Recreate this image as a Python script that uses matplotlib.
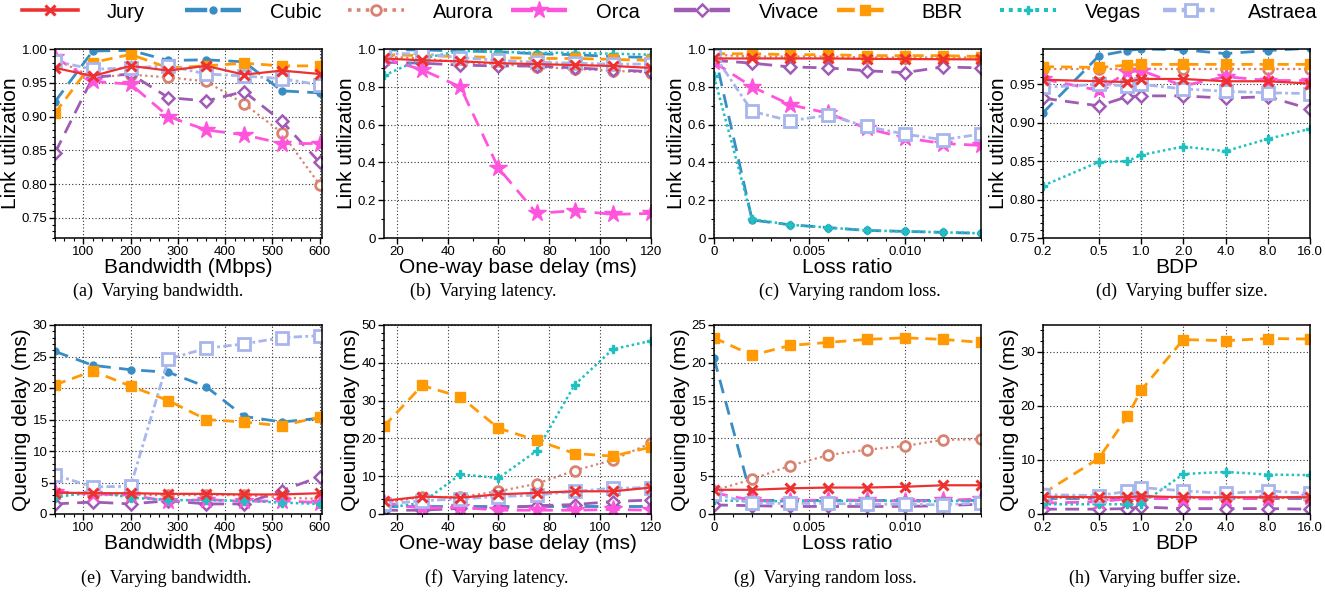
import numpy as np
import matplotlib
matplotlib.use("Agg")
import matplotlib.pyplot as plt
from matplotlib.lines import Line2D
from matplotlib.ticker import MultipleLocator, FixedLocator, NullLocator

plt.rcParams['font.family'] = ['Liberation Sans', 'DejaVu Sans']

# x values
bandwidth = [40, 120, 200, 280, 360, 440, 520, 600]
base_delay = [15, 30, 45, 60, 75, 90, 105, 120]
loss_ratio = [0, 0.002, 0.004, 0.006, 0.008, 0.010, 0.012, 0.014]
bdp = [0.2, 0.5, 0.8, 1.0, 2.0, 4.0, 8.0, 16.0]
bdp_ticks = [0.2, 0.5, 1.0, 2.0, 4.0, 8.0, 16.0]

schemes = ["Jury", "Cubic", "Aurora", "Orca", "Vivace", "BBR", "Vegas", "Astraea"]

# (a) link utilization vs bandwidth
util_bw = {
    "Jury":    [0.972, 0.960, 0.975, 0.968, 0.975, 0.962, 0.968, 0.963],
    "Cubic":   [0.922, 0.997, 0.998, 0.983, 0.984, 0.981, 0.938, 0.935],
    "Aurora":  [0.985, 0.958, 0.962, 0.958, 0.952, 0.919, 0.876, 0.799],
    "Orca":    [0.988, 0.952, 0.948, 0.900, 0.880, 0.873, 0.860, 0.860],
    "Vivace":  [0.846, 0.958, 0.963, 0.928, 0.923, 0.937, 0.893, 0.832],
    "BBR":     [0.905, 0.980, 0.992, 0.972, 0.975, 0.979, 0.975, 0.975],
    "Vegas":   [0.700, 0.700, 0.700, 0.700, 0.700, 0.700, 0.700, 0.700],
    "Astraea": [0.982, 0.970, 0.972, 0.975, 0.963, 0.960, 0.956, 0.947],
}
# (b) link utilization vs base delay
util_lat = {
    "Jury":    [0.950, 0.940, 0.935, 0.925, 0.920, 0.915, 0.910, 0.900],
    "Cubic":   [0.995, 0.995, 0.990, 0.985, 0.975, 0.970, 0.960, 0.955],
    "Aurora":  [0.960, 0.950, 0.930, 0.920, 0.905, 0.895, 0.885, 0.875],
    "Orca":    [0.950, 0.890, 0.800, 0.370, 0.130, 0.145, 0.125, 0.130],
    "Vivace":  [0.930, 0.925, 0.915, 0.910, 0.910, 0.900, 0.890, 0.880],
    "BBR":     [0.970, 0.965, 0.960, 0.955, 0.950, 0.950, 0.945, 0.940],
    "Vegas":   [0.860, 0.950, 0.990, 0.985, 0.980, 0.980, 0.975, 0.970],
    "Astraea": [0.975, 0.975, 0.955, 0.940, 0.930, 0.925, 0.920, 0.920],
}
# (c) link utilization vs loss ratio
util_loss = {
    "Jury":    [0.950, 0.950, 0.950, 0.950, 0.948, 0.947, 0.946, 0.945],
    "Cubic":   [0.990, 0.095, 0.070, 0.055, 0.040, 0.035, 0.030, 0.025],
    "Aurora":  [0.970, 0.960, 0.960, 0.960, 0.955, 0.955, 0.955, 0.955],
    "Orca":    [0.930, 0.800, 0.705, 0.660, 0.580, 0.530, 0.500, 0.490],
    "Vivace":  [0.940, 0.925, 0.905, 0.900, 0.885, 0.875, 0.905, 0.900],
    "BBR":     [0.975, 0.975, 0.970, 0.970, 0.965, 0.965, 0.965, 0.960],
    "Vegas":   [0.855, 0.100, 0.070, 0.055, 0.040, 0.035, 0.030, 0.025],
    "Astraea": [0.970, 0.670, 0.620, 0.650, 0.590, 0.550, 0.520, 0.550],
}
# (d) link utilization vs buffer size
util_buf = {
    "Jury":    [0.956, 0.954, 0.953, 0.957, 0.957, 0.954, 0.954, 0.951],
    "Cubic":   [0.913, 0.987, 0.994, 0.996, 0.995, 0.990, 0.994, 0.997],
    "Aurora":  [0.970, 0.970, 0.970, 0.970, 0.970, 0.970, 0.970, 0.970],
    "Orca":    [0.957, 0.942, 0.966, 0.968, 0.948, 0.960, 0.955, 0.955],
    "Vivace":  [0.932, 0.922, 0.934, 0.935, 0.935, 0.932, 0.934, 0.918],
    "BBR":     [0.973, 0.972, 0.975, 0.976, 0.976, 0.976, 0.976, 0.976],
    "Vegas":   [0.818, 0.849, 0.850, 0.858, 0.869, 0.863, 0.879, 0.892],
    "Astraea": [0.946, 0.950, 0.948, 0.950, 0.944, 0.941, 0.939, 0.938],
}
# (e) queuing delay vs bandwidth
delay_bw = {
    "Jury":    [3.4, 3.3, 3.3, 3.2, 3.2, 3.1, 3.1, 3.3],
    "Cubic":   [25.8, 23.6, 22.9, 22.5, 20.2, 15.5, 14.6, 15.2],
    "Aurora":  [3.2, 3.0, 3.0, 3.0, 3.0, 3.0, 2.6, 2.4],
    "Orca":    [3.5, 3.2, 3.0, 2.0, 2.3, 2.0, 2.1, 1.8],
    "Vivace":  [1.6, 1.9, 1.6, 2.1, 1.6, 1.6, 3.7, 5.9],
    "BBR":     [20.5, 22.7, 20.3, 18.0, 15.0, 14.6, 14.0, 15.4],
    "Vegas":   [2.6, 3.6, 2.6, 2.2, 2.2, 2.1, 1.8, 1.6],
    "Astraea": [6.2, 4.3, 4.4, 24.6, 26.3, 27.0, 28.0, 28.3],
}
# (f) queuing delay vs base delay
delay_lat = {
    "Jury":    [3.5, 4.6, 4.3, 5.2, 5.6, 6.0, 6.0, 7.0],
    "Cubic":   [2.0, 2.0, 2.0, 2.0, 2.0, 2.0, 2.0, 2.0],
    "Aurora":  [3.0, 4.5, 4.5, 6.0, 8.0, 11.5, 14.3, 18.8],
    "Orca":    [3.0, 1.5, 1.8, 1.0, 1.0, 1.0, 1.2, 1.0],
    "Vivace":  [1.0, 1.0, 1.5, 1.5, 2.2, 2.5, 3.3, 3.7],
    "BBR":     [23.2, 34.0, 31.0, 22.7, 19.5, 16.0, 15.3, 17.7],
    "Vegas":   [1.5, 3.0, 10.5, 9.5, 16.7, 34.2, 43.6, 45.8],
    "Astraea": [2.6, 3.5, 4.0, 4.6, 5.0, 6.0, 6.8, 7.0],
}
# (g) queuing delay vs loss ratio
delay_loss = {
    "Jury":    [3.2, 3.2, 3.4, 3.5, 3.5, 3.6, 3.8, 3.8],
    "Cubic":   [20.6, 1.8, 1.8, 1.8, 1.8, 1.8, 1.8, 1.8],
    "Aurora":  [3.1, 4.6, 6.4, 7.8, 8.5, 9.0, 9.8, 9.9],
    "Orca":    [2.8, 1.8, 1.7, 1.9, 1.8, 1.7, 1.8, 2.0],
    "Vivace":  [1.2, 1.1, 1.0, 1.0, 1.0, 1.0, 1.1, 1.3],
    "BBR":     [23.3, 21.0, 22.3, 22.7, 23.1, 23.3, 23.1, 22.7],
    "Vegas":   [1.8, 1.7, 1.7, 1.7, 1.8, 1.7, 1.7, 1.8],
    "Astraea": [2.7, 1.4, 1.4, 1.4, 1.3, 1.3, 1.2, 1.5],
}
# (h) queuing delay vs buffer size
delay_buf = {
    "Jury":    [3.2, 3.1, 3.1, 3.3, 3.1, 3.1, 3.1, 3.1],
    "Cubic":   [3.0, 3.0, 3.0, 3.0, 3.0, 3.0, 3.0, 3.0],
    "Aurora":  [3.0, 3.0, 3.0, 3.0, 3.0, 3.0, 3.0, 2.9],
    "Orca":    [2.0, 2.3, 2.8, 2.9, 2.8, 2.8, 2.9, 3.2],
    "Vivace":  [0.9, 0.9, 1.0, 1.3, 1.0, 1.0, 1.0, 0.9],
    "BBR":     [3.8, 10.3, 18.1, 22.9, 32.3, 32.1, 32.5, 32.4],
    "Vegas":   [1.8, 1.8, 1.8, 1.8, 7.4, 7.8, 7.3, 7.2],
    "Astraea": [3.6, 3.4, 4.2, 4.9, 4.3, 3.8, 4.3, 3.8],
}

styles = {
    "Jury":    dict(color="#ee3030", ls="-", marker="x", ms=7, mew=2.2, mfc="#ee3030", lw=1.6, zorder=9),
    "Cubic":   dict(color="#3a8dc4", ls=(0, (5, 3)), marker="o", ms=5, mfc="#3a8dc4", lw=2.0, zorder=4),
    "Aurora":  dict(color="#d98270", ls=(0, (1, 1.5)), marker="o", ms=7, mfc="white", mew=2.0, lw=1.6, zorder=5),
    "Orca":    dict(color="#ff55dd", ls=(0, (5, 3)), marker="*", ms=13, mfc="#ff55dd", lw=2.0, zorder=6),
    "Vivace":  dict(color="#a05cb4", ls=(0, (5, 3)), marker="D", ms=6, mfc="white", mew=1.8, lw=2.0, zorder=5),
    "BBR":     dict(color="#ff9a05", ls=(0, (4, 2.5)), marker="s", ms=7, mfc="#ff9a05", lw=2.0, zorder=7),
    "Vegas":   dict(color="#20c0c0", ls=(0, (1, 1.2)), marker="P", ms=6, mfc="#20c0c0", lw=1.8, zorder=6),
    "Astraea": dict(color="#a8b6ec", ls=(0, (3, 1.2, 1, 1.2)), marker="s", ms=8, mfc="white", mew=2.0, lw=2.0, zorder=8),
}

W, H = 1325, 594
fig = plt.figure(figsize=(W / 100, H / 100), dpi=100)

lefts = [55, 384, 714, 1043]
ax_w, ax_h = 267, 189
tops = [49, 325]

panels = [
    # data, x, xlabel, ylabel, ylim, major y, minor y, caption, caption x
    (util_bw, bandwidth, "Bandwidth (Mbps)", "Link utilization", (0.72, 1.0), 0.05, 0.01, "(a)  Varying bandwidth.", 158),
    (util_lat, base_delay, "One-way base delay (ms)", "Link utilization", (0, 1.0), 0.2, 0.1, "(b)  Varying latency.", 483),
    (util_loss, loss_ratio, "Loss ratio", "Link utilization", (0, 1.0), 0.2, 0.1, "(c)  Varying random loss.", 850),
    (util_buf, bdp, "BDP", "Link utilization", (0.75, 0.996), 0.05, 0.01, "(d)  Varying buffer size.", 1182),
    (delay_bw, bandwidth, "Bandwidth (Mbps)", "Queuing delay (ms)", (0, 30), 5, 1, "(e)  Varying bandwidth.", 166),
    (delay_lat, base_delay, "One-way base delay (ms)", "Queuing delay (ms)", (0, 50), 10, 2, "(f)  Varying latency.", 497),
    (delay_loss, loss_ratio, "Loss ratio", "Queuing delay (ms)", (0, 25), 5, 1, "(g)  Varying random loss.", 825),
    (delay_buf, bdp, "BDP", "Queuing delay (ms)", (0, 35), 10, 2, "(h)  Varying buffer size.", 1155),
]

for i, (data, xs, xlabel, ylabel, ylim, ymaj, ymin, caption, cap_x) in enumerate(panels):
    row, col = divmod(i, 4)
    left = lefts[col]
    top = tops[row]
    ax = fig.add_axes([left / W, 1 - (top + ax_h) / H, ax_w / W, ax_h / H])

    for name in schemes:
        ax.plot(xs, data[name], label=name, **styles[name])

    if xs is bdp:
        ax.set_xscale("log")
        ax.set_xlim(0.2, 16.0)
        ax.xaxis.set_major_locator(FixedLocator(bdp_ticks))
        ax.xaxis.set_minor_locator(NullLocator())
        ax.set_xticklabels([f"{t:.1f}" for t in bdp_ticks])
    elif xs is loss_ratio:
        ax.set_xlim(0, 0.014)
        ax.xaxis.set_major_locator(FixedLocator([0, 0.005, 0.010]))
        ax.xaxis.set_minor_locator(MultipleLocator(0.001))
        ax.set_xticklabels(["0", "0.005", "0.010"])
    elif xs is base_delay:
        ax.set_xlim(15, 120)
        ax.xaxis.set_major_locator(MultipleLocator(20))
        ax.xaxis.set_minor_locator(MultipleLocator(10))
    else:
        ax.set_xlim(40, 605)
        ax.xaxis.set_major_locator(MultipleLocator(100))
        ax.xaxis.set_minor_locator(MultipleLocator(20))

    ax.set_ylim(*ylim)
    ax.yaxis.set_major_locator(MultipleLocator(ymaj))
    ax.yaxis.set_minor_locator(MultipleLocator(ymin))
    if ymaj < 0.1:
        ax.yaxis.set_major_formatter(matplotlib.ticker.FormatStrFormatter("%.2f"))
    elif ymaj < 1:
        ax.yaxis.set_major_formatter(matplotlib.ticker.FuncFormatter(
            lambda v, p: "0" if abs(v) < 1e-9 else f"{v:.1f}"))

    ax.grid(True, which="major", color="#333333", ls=(0, (1, 2)), lw=0.8)
    ax.tick_params(which="major", direction="out", length=4, width=1, labelsize=9.5, pad=1.5)
    ax.tick_params(which="minor", direction="out", length=2.5, width=0.8)
    for sp in ax.spines.values():
        sp.set_linewidth(1.1)
        sp.set_zorder(10)
    ax.set_xlabel(xlabel, fontsize=15, labelpad=0)
    ax.set_ylabel(ylabel, fontsize=15, labelpad=1)

    cap_y = 291 if row == 0 else 578
    fig.text(cap_x / W, 1 - cap_y / H, caption, ha="center", va="center",
             fontsize=13, family=["Liberation Serif", "DejaVu Serif"])

# legend: one entry per fixed-width slot across the top
for k, name in enumerate(schemes):
    st = dict(styles[name])
    st["lw"] = st["lw"] * 1.6
    st.pop("zorder")
    proxy = Line2D([], [], **st)
    fig.legend(handles=[proxy], labels=[name], loc="center left",
               bbox_to_anchor=((22 + 163 * k) / W, 1 - 12 / H),
               frameon=False, fontsize=14.5, handlelength=2.8, handletextpad=1.4,
               borderpad=0, borderaxespad=0)

fig.savefig("out.png", dpi=100)
